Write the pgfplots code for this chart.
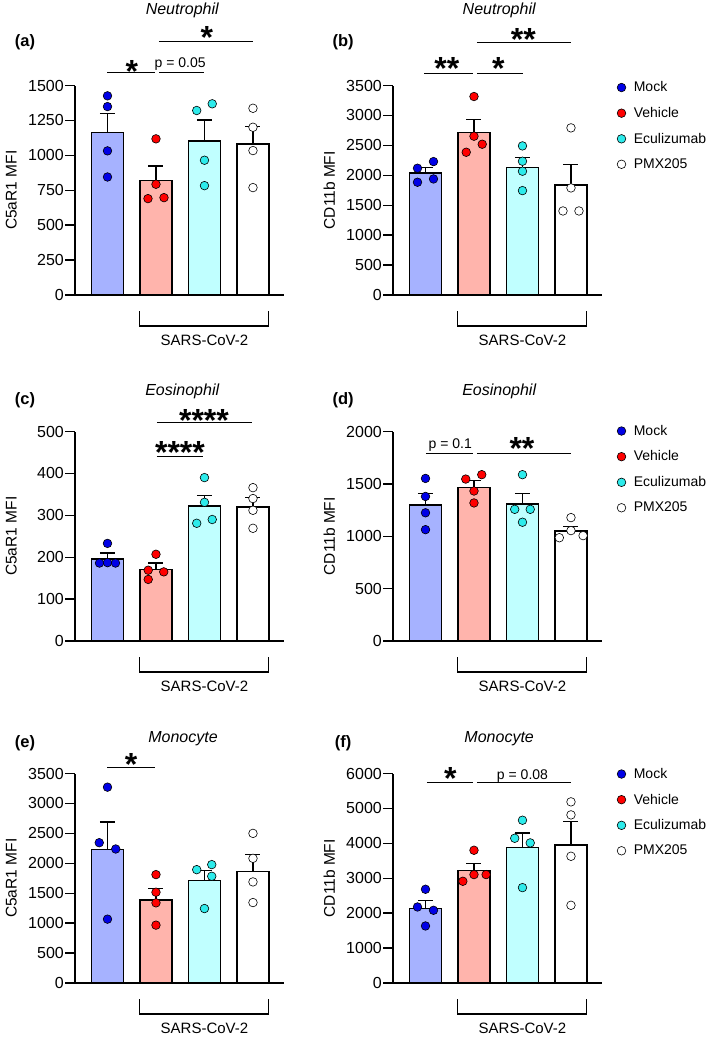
\documentclass[border=0pt]{standalone}
\usepackage{pgfplots}
\pgfplotsset{compat=1.18}
\usepackage{fontspec}
\setmainfont{Liberation Sans}

\definecolor{mockbar}{RGB}{166,178,255}
\definecolor{mockpt}{RGB}{0,0,230}
\definecolor{vehbar}{RGB}{255,180,172}
\definecolor{vehpt}{RGB}{255,0,0}
\definecolor{ecubar}{RGB}{192,255,255}
\definecolor{ecupt}{RGB}{45,235,235}

\pgfplotsset{
  panel/.style={
    scale only axis, width=209pt, height=209.5pt,
    xmin=0.33, xmax=4.64, ymin=0,
    axis x line*=bottom, axis y line*=left,
    axis line style={line width=1.4pt,-},
    xtick=\empty,
    tick align=outside, major tick length=10pt,
    ytick style={line width=1.4pt,black},
    yticklabel style={font=\fontsize{16}{16}\selectfont, inner xsep=1pt},
    /pgf/number format/assume math mode=true,
    /pgf/number format/1000 sep={},
    ylabel style={font=\fontsize{15.5}{15.5}\selectfont, at={(axis description cs:-0.305,0.5)}, anchor=center},
    clip=false,
    legend image code/.code={\draw[#1] plot coordinates {(0pt,0pt)};},
  },
  bars/.style={ybar, bar width=0.66, bar shift=0pt, draw=black, line width=1.3pt, forget plot,
    error bars/y dir=plus, error bars/y explicit,
    error bars/error bar style={line width=1.3pt,black},
    error bars/error mark options={rotate=90, mark size=7.5pt, line width=1.3pt, black}},
  dots/.style={only marks, mark=*, mark size=4.3pt, mark options={draw=black, line width=0.6pt, fill=#1}},
  leg/.style={legend style={at={(rel axis cs:1,1)}, anchor=north west, xshift=12pt, yshift=#1,
    draw=none, fill=none, font=\fontsize{14}{14}\selectfont,
    nodes={inner sep=0pt, font=\fontsize{14}{14}\selectfont},
    column sep=8pt, row sep=14pt}, legend cell align=left},
}
\tikzset{
  star/.style={font=\fontsize{32}{32}\selectfont\bfseries, anchor=base, inner sep=0pt},
  pval/.style={font=\fontsize{14}{14}\selectfont, anchor=base, inner sep=0pt},
  sig/.style={line width=1.2pt},
  ttl/.style={font=\fontsize{16}{16}\selectfont\itshape},
  plab/.style={font=\fontsize{16.5}{16.5}\selectfont\bfseries},
}
\newcommand{\sars}{%
  \draw[line width=1.2pt] ([yshift=-16pt]axis cs:1.66,0) -- ([yshift=-31pt]axis cs:1.66,0)
    -- ([yshift=-31pt]axis cs:4.32,0) -- ([yshift=-16pt]axis cs:4.32,0);
  \node[font=\fontsize{15}{15}\selectfont] at ([yshift=-45pt]axis cs:3,0) {SARS-CoV-2};}

\begin{document}
\begin{tikzpicture}
\useasboundingbox (0,0) rectangle (709pt,-1038pt);

% (a) Neutrophil C5aR1
\begin{axis}[panel, at={(75pt,-295pt)}, anchor=south west, ymax=1500,
  ytick={0,250,...,1500}, ylabel={C5aR1 MFI}]
\addplot[bars, fill=mockbar] coordinates {(1,1161) +- (0,138)};
\addplot[bars, fill=vehbar] coordinates {(2,822) +- (0,102)};
\addplot[bars, fill=ecubar] coordinates {(3,1103) +- (0,149)};
\addplot[bars, fill=white] coordinates {(4,1082) +- (0,124)};
\addplot[dots=mockpt] coordinates {(1,1426) (1,1349) (1,1032) (1,845)};
\addplot[dots=vehpt] coordinates {(2,1118) (2,793) (1.835,690) (2.165,697)};
\addplot[dots=ecupt] coordinates {(2.84,1321) (3.16,1369) (3,965) (3,783)};
\addplot[dots=white] coordinates {(4,1337) (4,1201) (4,1034) (4,769)};
\draw[sig] (axis cs:0.99,1591) -- (axis cs:1.99,1591);
\draw[sig] (axis cs:2.07,1591) -- (axis cs:3.0,1591);
\draw[sig] (axis cs:2.06,1813) -- (axis cs:4.0,1813);
\node[star] at (axis cs:1.5,1524) {*};
\node[pval] at (axis cs:2.5,1627) {p = 0.05};
\node[star] at (axis cs:3.05,1762) {*};
\node[ttl] at ([yshift=75pt]rel axis cs:0.513,1) {Neutrophil};
\node[plab] at ([yshift=43pt]rel axis cs:-0.239,1) {(a)};
\sars
\end{axis}

% (b) Neutrophil CD11b
\begin{axis}[panel, at={(393pt,-295pt)}, anchor=south west, ymax=3500,
  ytick={0,500,...,3500}, ylabel={CD11b MFI}, leg=6pt]
\addplot[bars, fill=mockbar] coordinates {(1,2040) +- (0,89)};
\addplot[bars, fill=vehbar] coordinates {(2,2714) +- (0,223)};
\addplot[bars, fill=ecubar] coordinates {(3,2129) +- (0,173)};
\addplot[bars, fill=white] coordinates {(4,1839) +- (0,340)};
\addplot[dots=mockpt] coordinates {(0.835,2118) (1.165,2229) (0.835,1884) (1.165,1939)};
\addlegendentry{Mock}
\addplot[dots=vehpt] coordinates {(2,3316) (2,2653) (2.17,2519) (1.84,2385)};
\addlegendentry{Vehicle}
\addplot[dots=ecupt] coordinates {(3,2491) (3,2235) (3,2068) (3,1744)};
\addlegendentry{Eculizumab}
\addplot[dots=white] coordinates {(4,2792) (4,1789) (3.835,1404) (4.165,1404)};
\addlegendentry{PMX205}
\draw[sig] (axis cs:0.97,3696) -- (axis cs:1.98,3696);
\draw[sig] (axis cs:2.06,3696) -- (axis cs:3.01,3696);
\draw[sig] (axis cs:2.06,4213) -- (axis cs:4.0,4213);
\node[star] at (axis cs:1.44,3605) {**};
\node[star] at (axis cs:2.5,3605) {*};
\node[star] at (axis cs:3.02,4090) {**};
\node[ttl] at ([yshift=75pt]rel axis cs:0.508,1) {Neutrophil};
\node[plab] at ([yshift=43pt]rel axis cs:-0.239,1) {(b)};
\sars
\end{axis}

% (c) Eosinophil C5aR1
\begin{axis}[panel, at={(75pt,-641pt)}, anchor=south west, ymax=500,
  ytick={0,100,...,500}, ylabel={C5aR1 MFI}]
\addplot[bars, fill=mockbar] coordinates {(1,196) +- (0,14)};
\addplot[bars, fill=vehbar] coordinates {(2,171) +- (0,15)};
\addplot[bars, fill=ecubar] coordinates {(3,322) +- (0,26)};
\addplot[bars, fill=white] coordinates {(4,320) +- (0,22)};
\addplot[dots=mockpt] coordinates {(1,233) (0.835,186) (1,187) (1.165,186)};
\addplot[dots=vehpt] coordinates {(2,207) (1.84,169) (2.16,165) (1.84,147)};
\addplot[dots=ecupt] coordinates {(3,390) (3,331) (2.84,281) (3.16,290)};
\addplot[dots=white] coordinates {(4,366) (4,340) (4,312) (4,269)};
\draw[sig] (axis cs:2.02,441) -- (axis cs:2.97,441);
\draw[sig] (axis cs:2.02,521.5) -- (axis cs:3.98,521.5);
\node[star] at (axis cs:2.495,424) {****};
\node[star] at (axis cs:2.99,501) {****};
\node[ttl] at ([yshift=40pt]rel axis cs:0.513,1) {Eosinophil};
\node[plab] at ([yshift=31pt]rel axis cs:-0.239,1) {(c)};
\sars
\end{axis}

% (d) Eosinophil CD11b
\begin{axis}[panel, at={(393pt,-641pt)}, anchor=south west, ymax=2000,
  ytick={0,500,...,2000}, ylabel={CD11b MFI}, leg=8.5pt]
\addplot[bars, fill=mockbar] coordinates {(1,1299) +- (0,110)};
\addplot[bars, fill=vehbar] coordinates {(2,1468) +- (0,62)};
\addplot[bars, fill=ecubar] coordinates {(3,1307) +- (0,102)};
\addplot[bars, fill=white] coordinates {(4,1050) +- (0,46)};
\addplot[dots=mockpt] coordinates {(1,1552) (1,1380) (1,1224) (1,1063)};
\addlegendentry{Mock}
\addplot[dots=vehpt] coordinates {(1.83,1546) (2.16,1588) (2,1432) (2,1318)};
\addlegendentry{Vehicle}
\addplot[dots=ecupt] coordinates {(3,1588) (2.84,1257) (3.16,1257) (3,1134)};
\addlegendentry{Eculizumab}
\addplot[dots=white] coordinates {(4,1178) (4,1054) (3.76,986) (4.25,1006)};
\addlegendentry{PMX205}
\draw[sig] (axis cs:1.01,1790) -- (axis cs:1.98,1790);
\draw[sig] (axis cs:2.06,1790) -- (axis cs:4.0,1790);
\node[pval] at (axis cs:1.51,1840) {p = 0.1};
\node[star] at (axis cs:2.99,1728) {**};
\node[ttl] at ([yshift=40pt]rel axis cs:0.508,1) {Eosinophil};
\node[plab] at ([yshift=31pt]rel axis cs:-0.239,1) {(d)};
\sars
\end{axis}

% (e) Monocyte C5aR1
\begin{axis}[panel, at={(75pt,-983pt)}, anchor=south west, ymax=3500,
  ytick={0,500,...,3500}, ylabel={C5aR1 MFI}]
\addplot[bars, fill=mockbar] coordinates {(1,2228) +- (0,461)};
\addplot[bars, fill=vehbar] coordinates {(2,1389) +- (0,189)};
\addplot[bars, fill=ecubar] coordinates {(3,1711) +- (0,172)};
\addplot[bars, fill=white] coordinates {(4,1861) +- (0,289)};
\addplot[dots=mockpt] coordinates {(1,3272) (0.83,2344) (1.17,2239) (1,1067)};
\addplot[dots=vehpt] coordinates {(2,1811) (2,1517) (2,1339) (2,967)};
\addplot[dots=ecupt] coordinates {(2.84,1894) (3.15,1978) (3.15,1783) (3,1244)};
\addplot[dots=white] coordinates {(4,2500) (4,2083) (4,1689) (4,1344)};
\draw[sig] (axis cs:0.99,3600) -- (axis cs:1.98,3600);
\node[star] at (axis cs:1.485,3460) {*};
\node[ttl] at ([yshift=35pt]rel axis cs:0.517,1) {Monocyte};
\node[plab] at ([yshift=30pt]rel axis cs:-0.239,1) {(e)};
\sars
\end{axis}

% (f) Monocyte CD11b
\begin{axis}[panel, at={(393pt,-983pt)}, anchor=south west, ymax=6000,
  ytick={0,1000,...,6000}, ylabel={CD11b MFI}, leg=7.5pt]
\addplot[bars, fill=mockbar] coordinates {(1,2131) +- (0,238)};
\addplot[bars, fill=vehbar] coordinates {(2,3220) +- (0,200)};
\addplot[bars, fill=ecubar] coordinates {(3,3879) +- (0,420)};
\addplot[bars, fill=white] coordinates {(4,3955) +- (0,669)};
\addplot[dots=mockpt] coordinates {(1,2685) (0.835,2178) (1.165,2083) (1,1634)};
\addlegendentry{Mock}
\addplot[dots=vehpt] coordinates {(2,3802) (1.77,2914) (2,3105) (2.25,3105)};
\addlegendentry{Vehicle}
\addplot[dots=ecupt] coordinates {(3,4662) (2.84,4146) (3.16,4013) (3,2732)};
\addlegendentry{Eculizumab}
\addplot[dots=white] coordinates {(4,5188) (4,4815) (4,3630) (4,2226)};
\addlegendentry{PMX205}
\draw[sig] (axis cs:1.03,5742) -- (axis cs:1.98,5742);
\draw[sig] (axis cs:2.06,5742) -- (axis cs:4.0,5742);
\node[star] at (axis cs:1.51,5530) {*};
\node[pval] at (axis cs:3.0,5828) {p = 0.08};
\node[ttl] at ([yshift=35pt]rel axis cs:0.508,1) {Monocyte};
\node[plab] at ([yshift=30pt]rel axis cs:-0.239,1) {(f)};
\sars
\end{axis}
\end{tikzpicture}
\end{document}
